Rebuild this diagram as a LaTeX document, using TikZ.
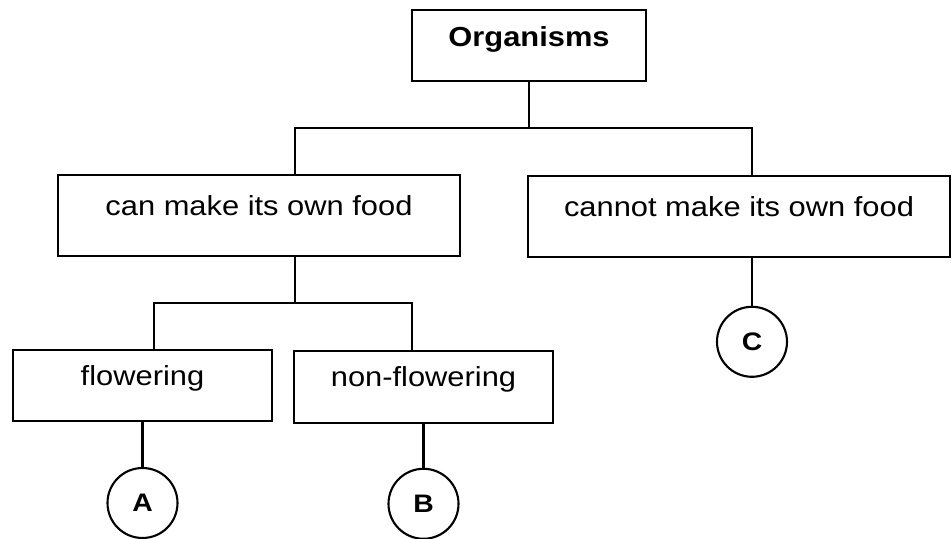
\documentclass[tikz,border=0pt]{standalone}
\usepackage{fontspec}
\setmainfont{Liberation Sans}[FakeStretch=1.12]
\usepackage{tikz}
\usetikzlibrary{calc, positioning}

\newcommand{\boxfont}{\fontsize{19.6pt}{23pt}\selectfont}
\newcommand{\tagfont}{\fontsize{18pt}{21pt}\selectfont\bfseries}

\begin{document}
\begin{tikzpicture}[
    group/.style={rectangle, draw=black, line width=1.5pt, font=\boxfont, align=center, text height=2ex, text depth=2ex, inner sep=0pt},
    root/.style={group, font=\boxfont\bfseries, text depth=1.65ex, minimum width=5.85cm, minimum height=1.775cm},
    food/.style={group, minimum height=2.025cm},
    kind/.style={group, minimum width=6.475cm, minimum height=1.78cm},
    leaf/.style={circle, draw=black, line width=1.5pt, font=\tagfont, minimum size=1.75cm, inner sep=0pt},
    link/.style={draw=black, line width=1.5pt}
]
    \useasboundingbox (0,0) rectangle (23.8,13.475);

    % Root
    \node[root] (org) at (13.225, 12.34) {Organisms};

    % Food
    \node[food, minimum width=10.05cm] (canmake) at (6.475, 8.09) {can make its own food};
    \node[food, minimum width=10.55cm] (cannot) at (18.475, 8.06) {cannot make its own food};

    % Plants
    \node[kind] (flowering) at (3.5625, 3.83) {flowering};
    \node[kind] (nonflower) at (10.5875, 3.80) {non-flowering};

    % Groups
    \node[leaf] (A) at (3.5625, 0.9) {A};
    \node[leaf] (B) at (10.5875, 0.88) {B};
    \node[leaf] (C) at (18.8, 4.93) {C};

    % Connectors
    \coordinate (topsplit) at (13.225, 10.275);
    \coordinate (foodsplit) at (7.375, 5.9);

    \draw[link] (org.south) -- (topsplit);
    \draw[link] ([xshift=0.9cm]canmake.north) |- (topsplit) -| ([xshift=0.325cm]cannot.north);

    \draw[link] ([xshift=0.9cm]canmake.south) -- (foodsplit);
    \draw[link] ([xshift=0.29cm]flowering.north) |- (foodsplit) -| ([xshift=-0.29cm]nonflower.north);

    \draw[link] (flowering.south) -- (A.north);
    \draw[link] (nonflower.south) -- (B.north);
    \draw[link] (cannot.south -| C.north) -- (C.north);

\end{tikzpicture}
\end{document}
